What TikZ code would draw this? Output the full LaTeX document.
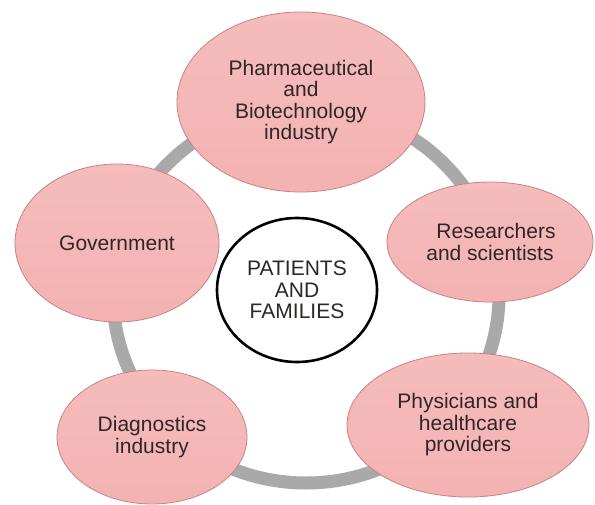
\documentclass[tikz,border=0pt]{standalone}
\usepackage{fontspec}
\setmainfont{Liberation Sans}
\usetikzlibrary{shapes.geometric}
\definecolor{ringgray}{HTML}{A9A9A9}
\definecolor{pinktop}{HTML}{F5BCBC}
\definecolor{pinkmid}{HTML}{FCDCDC}
\definecolor{pinkbot}{HTML}{F4B2B2}
\definecolor{pinkedge}{HTML}{C98282}
\definecolor{txt}{HTML}{302626}
\begin{document}
\begin{tikzpicture}[x=1pt,y=-1pt,
  bubble/.style={ellipse, draw=pinkedge, line width=0.8pt,
    top color=pinktop, middle color=pinkmid, bottom color=pinkbot,
    inner sep=0pt, align=center, text=txt,
    font=\fontsize{21}{21.5}\selectfont},
  hub/.style={ellipse, draw=black, line width=2.6pt, fill=white,
    inner sep=0pt, align=center, text=txt,
    font=\fontsize{21}{21.5}\selectfont}]
\useasboundingbox (0,0) rectangle (595,504);
\fill[white] (0,0) rectangle (595,504);
% ring
\coordinate (ringc) at (306,295);
\draw[ringgray, line width=13pt] (ringc) ellipse [x radius=193, y radius=188];
% nodes
\node[bubble, minimum width=248pt, minimum height=180pt] (pharma) at (301,102)
  {Pharmaceutical\\and\\Biotechnology\\industry};
\node[bubble, minimum width=206pt, minimum height=120pt] (res) at (490,242)
  {\hspace*{12pt}Researchers\\and scientists};
\node[bubble, minimum width=204pt, minimum height=158pt] (gov) at (117,243)
  {Government};
\node[bubble, minimum width=190pt, minimum height=134pt] (diag) at (152,437)
  {Diagnostics\\industry};
\node[bubble, minimum width=242pt, minimum height=144pt] (phys) at (468,425)
  {Physicians and\\healthcare\\providers};
\node[hub, minimum width=160pt, minimum height=144pt] (pat) at (297,290)
  {PATIENTS\\AND\\FAMILIES};
\end{tikzpicture}
\end{document}
